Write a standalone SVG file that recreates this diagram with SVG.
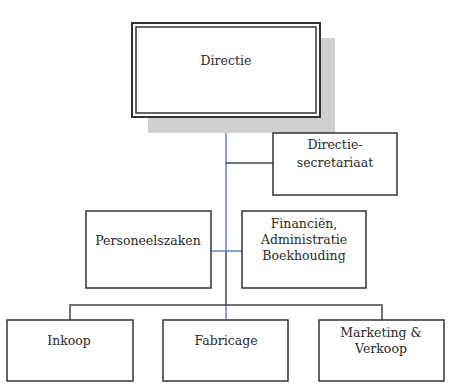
<svg xmlns="http://www.w3.org/2000/svg" width="452" height="391" viewBox="0 0 452 391">
<style>
.box{fill:#fff;stroke:#333;stroke-width:1.5}
.t{font-family:"DejaVu Serif","Liberation Serif",serif;font-size:12.5px;fill:#2a2a2a;text-anchor:middle}
.ln{fill:none;stroke:#444;stroke-width:1.5}
.bl{fill:none;stroke:#5b86c8;stroke-width:1.5}
</style>
<rect width="452" height="391" fill="#fff"/>
<g id="connectors">
<line class="bl" x1="226" y1="117" x2="226" y2="251"/>
<line class="ln" x1="226" y1="251" x2="226" y2="305"/>
<line class="bl" x1="226" y1="305" x2="226" y2="320"/>
<line class="ln" x1="226" y1="163" x2="273" y2="163"/>
<line class="bl" x1="211" y1="251" x2="242" y2="251"/>
<polyline class="ln" points="70,320 70,305 382,305 382,320"/>
</g>
<g id="directie">
<rect x="148" y="38" width="187" height="95" fill="#d0d0d0"/>
<rect x="132" y="23" width="188" height="94" fill="#fff" stroke="#333" stroke-width="2"/>
<rect x="136" y="27" width="180" height="86" fill="none" stroke="#333" stroke-width="1.5"/>
<text class="t" x="226" y="65">Directie</text>
</g>
<g id="secretariaat">
<rect class="box" x="273" y="133" width="124" height="62"/>
<text class="t" x="335" y="149">Directie-</text>
<text class="t" x="335" y="167">secretariaat</text>
</g>
<g id="personeelszaken">
<rect class="box" x="86" y="211" width="125" height="77"/>
<text class="t" x="148" y="245">Personeelszaken</text>
</g>
<g id="financien">
<rect class="box" x="242" y="211" width="124" height="77"/>
<text class="t" x="304" y="228">Financiën,</text>
<text class="t" x="304" y="244">Administratie</text>
<text class="t" x="304" y="260">Boekhouding</text>
</g>
<g id="inkoop">
<rect class="box" x="7" y="320" width="126" height="61"/>
<text class="t" x="69" y="345">Inkoop</text>
</g>
<g id="fabricage">
<rect class="box" x="163" y="320" width="125" height="61"/>
<text class="t" x="226" y="345">Fabricage</text>
</g>
<g id="marketing">
<rect class="box" x="319" y="320" width="125" height="61"/>
<text class="t" x="381" y="337">Marketing &amp;</text>
<text class="t" x="381" y="353">Verkoop</text>
</g>
</svg>
